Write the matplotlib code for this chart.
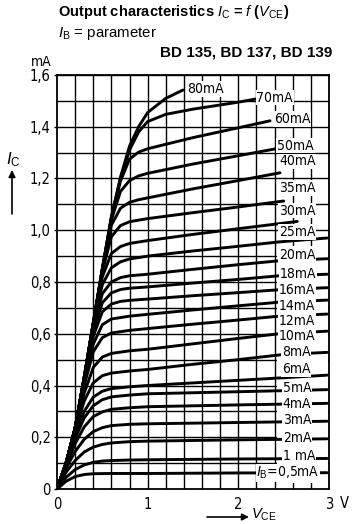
import matplotlib
matplotlib.use('Agg')
import matplotlib.pyplot as plt
from matplotlib import font_manager
from matplotlib.patches import Rectangle

# ---------------- data ----------------
base_labels = ['$I_\\mathrm{B}$=0,5mA', '1 mA', '2mA', '3mA', '4mA', '5mA', '6mA', '8mA',
               '10mA', '12mA', '14mA', '16mA', '18mA', '20mA', '25mA', '30mA',
               '35mA', '40mA', '50mA', '60mA', '70mA', '80mA']

label_v = [2.20, 2.49, 2.49, 2.49, 2.49, 2.49, 2.48, 2.48, 2.45, 2.45, 2.45,
           2.45, 2.46, 2.45, 2.45, 2.45, 2.45, 2.45, 2.43, 2.39, 2.20, 1.44]
label_i = [0.062, 0.126, 0.196, 0.267, 0.330, 0.390, 0.465, 0.530, 0.593, 0.650, 0.708,
           0.768, 0.830, 0.905, 0.993, 1.076, 1.164, 1.266, 1.327, 1.430, 1.513, 1.545]

v_low = [0, .1, .2, .3, .4, .5, .6, .8, 1.0, 2.0, 2.98]
v_mid = [0, .1, .2, .3, .4, .5, .6, .8, 1.0, 1.5, 2.0, 2.5, 2.98]
v_mid2 = [0, .1, .2, .3, .4, .5, .6, .8, 1.0, 1.5, 2.0, 2.45, 2.98]
v_hi = [0, .1, .2, .3, .4, .5, .6, .7, .8, 1.0, 1.5, 2.0, 2.45, 2.98]

curve_v = [
    [0, .1, .2, .3, .4, .6, 1.0, 2.0, 2.98],
    v_low, v_low, v_low, v_low, v_low,
    v_mid, v_mid,
    v_mid2, v_mid2, v_mid2,
    v_hi, v_hi, v_hi, v_hi,
    [0, .1, .2, .3, .4, .5, .6, .7, .8, 1.0, 1.5, 2.0, 2.65],
    [0, .1, .2, .3, .4, .5, .6, .7, .8, 1.0, 1.5, 2.0, 2.5],
    [0, .1, .2, .3, .4, .5, .6, .7, .8, .9, 1.0, 1.5, 2.0, 2.46],
    [0, .1, .2, .3, .4, .5, .6, .7, .8, .9, 1.0, 1.5, 2.0, 2.4],
    [0, .1, .2, .3, .4, .5, .6, .7, .8, .9, 1.0, 1.5, 2.0, 2.35],
    [0, .1, .2, .3, .4, .5, .6, .7, .8, .9, 1.0, 1.2, 1.5, 2.0, 2.19],
    [0, .1, .2, .3, .4, .5, .6, .7, .8, .9, 1.0, 1.2, 1.39],
]
curve_i = [
    [0, .030, .048, .056, .059, .060, .060, .062, .063],
    [0, .045, .075, .093, .103, .108, .110, .112, .113, .116, .118],
    [0, .065, .110, .143, .162, .172, .178, .183, .185, .190, .194],
    [0, .080, .145, .192, .222, .237, .245, .250, .252, .257, .262],
    [0, .090, .175, .240, .280, .298, .308, .314, .318, .325, .331],
    [0, .095, .195, .275, .322, .345, .356, .363, .368, .376, .384],
    [0, .100, .210, .300, .355, .378, .388, .395, .400, .410, .420, .430, .440],
    [0, .100, .225, .340, .410, .438, .448, .456, .462, .482, .500, .520, .528],
    [0, .100, .230, .370, .470, .510, .524, .534, .540, .561, .582, .600, .610],
    [0, .100, .235, .400, .530, .585, .603, .613, .620, .637, .653, .668, .676],
    [0, .100, .235, .410, .560, .635, .657, .668, .675, .692, .708, .722, .730],
    [0, .100, .235, .420, .590, .685, .715, .725, .729, .734, .747, .759, .770, .778],
    [0, .100, .235, .425, .610, .720, .758, .771, .776, .781, .796, .810, .824, .830],
    [0, .100, .235, .430, .625, .755, .800, .817, .824, .830, .849, .867, .882, .890],
    [0, .100, .235, .430, .635, .790, .855, .878, .889, .900, .920, .938, .955, .970],
    [0, .100, .235, .430, .640, .820, .910, .937, .949, .960, .984, 1.006, 1.034],
    [0, .100, .235, .430, .640, .840, .975, 1.018, 1.033, 1.045, 1.068, 1.090, 1.113],
    [0, .100, .235, .430, .640, .845, 1.020, 1.085, 1.108, 1.118, 1.125, 1.160, 1.192, 1.222],
    [0, .100, .235, .430, .640, .850, 1.040, 1.150, 1.192, 1.210, 1.220, 1.256, 1.288, 1.314],
    [0, .100, .235, .430, .640, .850, 1.050, 1.190, 1.275, 1.302, 1.315, 1.358, 1.396, 1.423],
    [0, .100, .235, .430, .640, .850, 1.050, 1.200, 1.310, 1.380, 1.420, 1.448, 1.468, 1.495, 1.507],
    [0, .100, .235, .430, .640, .850, 1.050, 1.205, 1.325, 1.400, 1.455, 1.510, 1.542],
]

y_ticks = [0, 0.2, 0.4, 0.6, 0.8, 1.0, 1.2, 1.4, 1.6]
y_ticklabels = ['0', '0,2', '0,4', '0,6', '0,8', '1,0', '1,2', '1,4', '1,6']
x_ticks = [0, 1, 2, 3]
x_ticklabels = ['0', '1', '2', '3']

# ---------------- fonts ----------------
names = {f.name for f in font_manager.fontManager.ttflist}
if 'Liberation Sans Narrow' in names:
    NARROW = dict(family='Liberation Sans Narrow')
else:
    NARROW = dict(family='DejaVu Sans', stretch='condensed')
plt.rcParams['mathtext.fontset'] = 'custom'
plt.rcParams['mathtext.rm'] = 'Liberation Sans'
plt.rcParams['mathtext.it'] = 'Liberation Sans:italic'
plt.rcParams['mathtext.bf'] = 'Liberation Sans:bold'
plt.rcParams['font.family'] = ['Liberation Sans', 'DejaVu Sans']

# ---------------- figure ----------------
fig = plt.figure(figsize=(3.57, 5.24), dpi=100)
ax = fig.add_axes([57 / 357, 35 / 524, 272 / 357, 414 / 524])
ax.set_xlim(0, 3)
ax.set_ylim(0, 1.6)

grid_kw = dict(color='black', lw=1.0, zorder=1)
for k in range(1, 16):
    ax.axvline(0.2 * k, **grid_kw)
for k in range(1, 17):
    ax.axhline(0.1 * k, **grid_kw)

# blank area behind the curve labels
ax.add_patch(Rectangle((2.43, 0.025), 2.985 - 2.43, 0.94 - 0.025,
                       facecolor='white', edgecolor='none', zorder=1.5))

for vv, ii in zip(curve_v, curve_i):
    ax.plot(vv, ii, color='black', lw=2.1, solid_joinstyle='round',
            solid_capstyle='round', zorder=3)

for s, lv, li in zip(base_labels, label_v, label_i):
    ax.text(lv, li, s, ha='left', va='center', fontsize=10, zorder=5,
            bbox=dict(facecolor='white', edgecolor='none', pad=0.6), **NARROW)

for sp in ax.spines.values():
    sp.set_linewidth(1.3)
    sp.set_zorder(6)

ax.set_yticks(y_ticks)
ax.set_yticklabels(y_ticklabels, fontsize=10.5, **NARROW)
ax.set_xticks(x_ticks)
ax.set_xticklabels(x_ticklabels, fontsize=10.5, **NARROW)
ax.tick_params(axis='y', length=2.5, width=1.0, pad=2)
ax.tick_params(axis='x', length=0, pad=6)

fig.text(340 / 357, 1 - 503 / 524, 'V', ha='left', va='center', fontsize=10.5, **NARROW)
fig.text(41.5 / 357, 1 - 62.5 / 524, 'mA', ha='center', va='center', fontsize=10, **NARROW)

# axis quantity labels with arrows
fig.text(13 / 357, 1 - 160 / 524, '$I_\\mathrm{C}$', ha='center', va='center', fontsize=12)
ax.annotate('', xy=(12 / 357, 1 - 170 / 524), xytext=(12 / 357, 1 - 214 / 524),
            xycoords='figure fraction', textcoords='figure fraction',
            arrowprops=dict(arrowstyle='-|>', color='black', lw=1.2,
                            mutation_scale=10, shrinkA=0, shrinkB=0))
ax.annotate('', xy=(249 / 357, 1 - 517 / 524), xytext=(207 / 357, 1 - 517 / 524),
            xycoords='figure fraction', textcoords='figure fraction',
            arrowprops=dict(arrowstyle='-|>', color='black', lw=1.2,
                            mutation_scale=10, shrinkA=0, shrinkB=0))
fig.text(251 / 357, 1 - 523 / 524, '$V_\\mathrm{CE}$', ha='left', va='bottom', fontsize=10.5)

# titles
fig.text(58 / 357, 1 - 3 / 524,
         'Output characteristics $I_\\mathrm{C}$ = $f$ ($V_\\mathrm{CE}$)',
         ha='left', va='top', fontsize=10.5, fontweight='bold')
fig.text(58 / 357, 1 - 42 / 524, '$I_\\mathrm{B}$ = parameter',
         ha='left', va='bottom', fontsize=10.8)
fig.text(332 / 357, 1 - 52.5 / 524, 'BD 135, BD 137, BD 139',
         ha='right', va='center', fontsize=11, fontweight='bold')

fig.savefig('out.png', dpi=100, facecolor='white')
